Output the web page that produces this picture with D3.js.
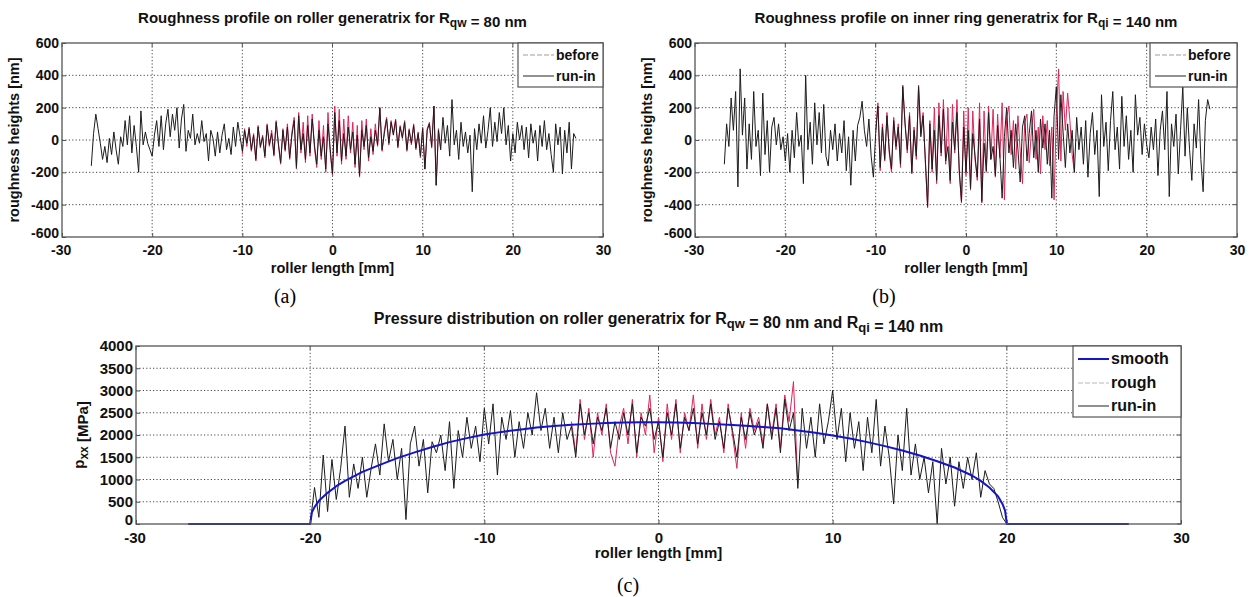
<!DOCTYPE html>
<html>
<head>
<meta charset="utf-8">
<script src="https://cdn.jsdelivr.net/npm/d3@7"></script>
<style>
  html, body { margin: 0; padding: 0; background: #fff; }
  svg { display: block; }
  text { font-family: "Liberation Sans", Arial, sans-serif; }
</style>
</head>
<body>
<script>
// ---------- data ----------
// Profiles are sampled on a regular grid: first x [mm] and step [mm]
const profileStart = -26.75;
const profileStep = 0.25;

// (a) roller roughness heights [nm], run-in profile
const rollerRunIn = [
  -160, 40, 160, 70, -20, -120, -40, -140,
  10, -90, 50, -60, -150, 20, -40, 120,
  -30, 150, -80, 90, -40, -200, 180, -30,
  50, -20, -60, -100, 30, 120, -40, 150,
  -60, 100, 190, 20, 160, 60, 200, -50,
  130, 220, -70, 60, 10, 160, -30, 40,
  -20, 120, -10, 40, -130, 60, 10, -100,
  50, -80, 30, 100, -60, 10, -90, 80,
  -40, 110, 20, -70, 60, -20, 70, -60,
  30, -120, 80, -40, 20, -100, 90, -30,
  40, -90, 110, -20, -140, 60, -60, 80,
  -110, 30, 120, -170, 150, -60, 40, -120,
  90, -80, 130, -30, -150, 60, -100, 20,
  -180, 100, -60, -210, 170, -80, 120, -130,
  40, -100, 80, -60, 50, -150, 30, -220,
  60, -40, 90, -110, 20, -70, 60, -30,
  200, -60, 40, 130, -20, 110, 30, 120,
  -40, 80, 10, 110, -60, 60, -20, 90,
  -50, 40, -100, 70, -180, 60, 100, -40,
  210, -280, 60, -60, 140, -20, 90, -100,
  250, -30, 60, -120, 110, -40, 50, -80,
  30, -320, 70, -60, 100, -20, 150, -50,
  60, 200, -40, 110, -10, 170, 40, 200,
  -30, 90, -130, 40, -80, 110, 0, 90,
  -60, 80, -110, 100, -20, 60, -130, 90,
  -40, 120, -60, 40, -90, -200, 100, -30,
  80, -210, 60, -80, 110, -180, 40, 10
];

// (a) roller roughness before run-in, central contact zone only
const beforeStart = -10.0;
const rollerBefore = [
  -90, 70, -40, 80, -70, 40, -130, 90,
  -50, 30, -110, 100, -40, 60, -100, 120,
  -30, -150, 70, -70, 100, -120, 50, 140,
  -180, 170, -80, 110, -140, 150, -100, 160,
  -50, -170, 120, -120, 90, -200, 170, -80,
  -220, 210, -100, 190, -150, 130, -120, 150,
  -80, 110, -170, 90, -230, 120, -60, 130,
  -130, 70, -90, 100, -40, 200, -70, 60,
  140, -30, 120, 40, 130, -50, 90, 20,
  120, -70, 70, -30, 100, -60, 50, -110,
  80, -180, 70, 110, -50, 210, -280, 70,
  -60
];

// (b) inner ring roughness heights [nm], run-in profile
const ringRunIn = [
  -150, 100, -40, 260, 60, 300, -290, 440,
  30, 260, -180, 100, -120, 300, -40, 60,
  -220, 290, -90, 120, -200, 80, 140, -30,
  100, -60, 20, -130, 40, -200, 60, -110,
  170, -40, 30, -270, 400, -60, 110, -150,
  230, -30, 170, -80, 220, -100, -160, 60,
  -60, 100, -130, 40, -80, 120, -190, 20,
  -280, 60, -130, 90, 140, 240, 60, -40,
  130, -100, -230, 40, 210, -170, 80, -120,
  150, -60, -180, 120, -40, 80, -150, 330,
  100, -60, 150, -200, 60, -100, 330, 20,
  150, -120, -410, 100, -180, 60, -250, 150,
  -80, 190, -130, -40, -250, 110, -60, 170,
  -180, -380, 80, -200, 60, -300, 40, -100,
  -230, 130, -380, -20, -190, 170, -120, -40,
  -220, 90, -100, -360, 20, 200, -80, 60,
  -170, 100, -60, -260, 80, 150, -130, 40,
  180, -110, 60, -200, 130, -50, 100, -150,
  60, -360, 150, 330, -120, 280, 50, -170,
  100, -80, 60, -200, 140, -60, 80, -150,
  120, -230, 40, 170, -90, 60, -350, 280,
  -40, 110, -190, 120, 300, -60, 80, -180,
  270, -40, 150, -120, 60, -200, 280, 30,
  140, -90, 100, -30, -110, 80, -60, 130,
  -220, 60, 180, -60, 300, -350, 100, -40,
  160, -210, 60, 330, -100, 200, -60, -250,
  100, -50, 250, -120, -320, 120, 250, 190
];

// (b) inner ring roughness before run-in, central contact zone only
const ringBefore = [
  60, 230, -190, 100, -130, 170, -80, -200,
  140, -60, 100, -170, 340, 110, -80, 170,
  -210, 80, -120, 340, 40, 170, -140, -420,
  120, -200, 200, -270, 230, -100, 250, -150,
  200, -270, 220, -80, 250, -200, -390, 180,
  -220, 200, -310, 180, -120, -250, 230, -390,
  180, -200, 210, -120, 190, -230, 160, -110,
  230, -370, 140, 210, -90, 120, -180, 150,
  -70, -270, 110, 160, -140, 60, 190, -120,
  80, -210, 150, -60, 120, -160, 80, -370,
  160, 440, -130, 300, 60, 290, 120, -90,
  -200
];

// (c) pressure [MPa]; sampled from -20 mm with a 0.25 mm step
const pressureStart = -20.0;
const pressureStep = 0.25;
const pressureRunIn = [
  0, 820, 150, 1550, 280, 1450, 550, 1250,
  2200, 600, 1350, 800, 1500, 600, 1250, 1800,
  1100, 2250, 1400, 1900, 1000, 1700, 100, 1800,
  2200, 1300, 1900, 700, 1850, 1600, 2000, 1200,
  2300, 800, 2100, 1500, 2400, 1700, 2200, 1400,
  2600, 1800, 2700, 1100, 2400, 1900, 2550, 1500,
  2300, 1700, 2500, 2000, 2950, 2100, 2600, 1700,
  2400, 1600, 2500, 1900, 2200, 1500, 2700, 2000,
  2500, 1800, 2400, 2100, 2600, 1700, 2300, 1900,
  2500, 2000, 2700, 1600, 2400, 2200, 2600, 1900,
  2300, 1500, 2500, 2000, 2700, 1700, 2400, 2100,
  2600, 1800, 2500, 2000, 2700, 1900, 2300, 1700,
  2600, 2100, 1500, 2400, 1900, 2500, 2000, 2300,
  1700, 2700, 1900, 2600, 1600, 2800, 2100, 2500,
  800, 2600, 1700, 2400, 1500, 2700, 1800, 2300,
  3000, 1900, 2600, 1400, 2500, 1700, 2300, 1200,
  2400, 1600, 2800, 1300, 2200, 1500, 450, 2000,
  1200, 2600, 1100, 1800, 1000, 1500, 700, 1400,
  0, 1700, 900, 1500, 400, 1400, 800, 1500,
  1000, 1600, 600, 1200, 900, 800, 500, 150,
  0
];

// (c) rough-surface pressure [MPa]; sampled from -5 mm with a 0.25 mm step
const roughStart = -5.0;
const pressureRough = [
  2300, 1600, 2800, 1900, 2600, 1500, 2500, 2000,
  2700, 1600, 1300, 2200, 2600, 1800, 2800, 1500,
  2500, 2000, 2900, 1600, 2400, 1400, 2700, 1900,
  2800, 1600, 2500, 2100, 2900, 1700, 2700, 1900,
  2800, 2000, 2400, 1600, 2700, 2000, 1250, 2500,
  1700, 2600, 2100, 2400, 1800, 2700, 2000, 2700,
  1700, 2900, 2300, 3200, 900
];

// (c) smooth-surface pressure [MPa]
const smoothX = [-27, -20.05, -20, -19.9, -19.75, -19.5, -19, -18.5, -18, -17, -16, -15, -14, -13,
  -12, -11, -10, -9, -8, -7, -6, -5, -4, -3, -2, -1, 0, 1, 2, 3, 4, 5, 6, 7, 8, 9, 10,
  11, 12, 13, 14, 15, 16, 17, 18, 18.5, 19, 19.5, 19.75, 19.9, 20, 20.05, 27];
const smoothP = [0, 0, 0, 260, 380, 520, 700, 850, 970, 1170, 1330, 1480, 1610, 1730,
  1840, 1930, 2010, 2070, 2120, 2170, 2200, 2230, 2250, 2270, 2280, 2285, 2285, 2280, 2270, 2250, 2230, 2210, 2180, 2150, 2100, 2050, 1990,
  1920, 1840, 1750, 1650, 1540, 1410, 1270, 1090, 970, 820, 620, 450, 300, 0, 0, 0];

// axis ticks
const xTicks = [-30, -20, -10, 0, 10, 20, 30];
const roughTicks = [-600, -400, -200, 0, 200, 400, 600];
const pressureTicks = [0, 500, 1000, 1500, 2000, 2500, 3000, 3500, 4000];

// ---------- drawing ----------
const W = 1253, H = 597;
const svg = d3.select("body").append("svg").attr("width", W).attr("height", H);

const C = {
  black: "#1c1c1c",
  red: "#e2245a",
  blue: "#1414c8",
  grid: "#333",
  box: "#555",
  faint: "#c9b9bd"
};

function evenSeries(values, start, step) {
  return values.map((v, i) => [start + i * step, v]);
}

function addParts(textSel, parts, subSize) {
  parts.forEach(part => {
    if (part.sub) {
      textSel.append("tspan").attr("dy", 4).style("font-size", subSize + "px").text(part.sub);
      textSel.append("tspan").attr("dy", -4).text("");
    } else {
      textSel.append("tspan").text(part.text);
    }
  });
}

function drawPanel(p) {
  const g = svg.append("g");
  const x = d3.scaleLinear().domain([-30, 30]).range([p.left, p.right]);
  const y = d3.scaleLinear().domain(p.yDomain).range([p.bottom, p.top]);

  // grid
  const gx = xTicks.filter(t => t > -30 && t < 30);
  const gy = p.yTicks.filter(t => t > p.yDomain[0] && t < p.yDomain[1]);
  g.append("g").selectAll("line").data(gx).join("line")
    .attr("x1", d => x(d)).attr("x2", d => x(d))
    .attr("y1", p.top).attr("y2", p.bottom)
    .attr("stroke", C.grid).attr("stroke-width", 0.9).attr("stroke-dasharray", "1.2,2.2");
  g.append("g").selectAll("line").data(gy).join("line")
    .attr("x1", p.left).attr("x2", p.right)
    .attr("y1", d => y(d)).attr("y2", d => y(d))
    .attr("stroke", C.grid).attr("stroke-width", 0.9).attr("stroke-dasharray", "1.2,2.2");

  // series
  const line = d3.line().x(d => x(d[0])).y(d => y(d[1]));
  p.series.forEach(s => {
    g.append("path").datum(s.data)
      .attr("d", line)
      .attr("fill", "none")
      .attr("stroke", s.color)
      .attr("stroke-width", s.width)
      .attr("stroke-linejoin", "round");
  });

  // axes
  const fmt = d => String(d);
  const ax = d3.axisBottom(x).tickValues(xTicks).tickFormat(fmt).tickSize(-4).tickPadding(8);
  const ay = d3.axisLeft(y).tickValues(p.yTicks).tickFormat(fmt).tickSize(-4).tickPadding(3);
  const axG = g.append("g").attr("transform", `translate(0,${p.bottom})`).call(ax);
  const ayG = g.append("g").attr("transform", `translate(${p.left},0)`).call(ay);
  [axG, ayG].forEach(a => {
    a.select(".domain").remove();
    a.selectAll(".tick line").attr("stroke", C.box);
    a.selectAll(".tick text")
      .attr("fill", "#111")
      .style("font-size", p.tickSize + "px")
      .style("font-weight", "bold")
      .style("font-family", "'Liberation Sans', Arial, sans-serif");
  });
  // lowest y label sits just above the first x label
  ayG.selectAll(".tick text").filter(d => d === p.yDomain[0]).attr("dy", "0.05em");
  axG.selectAll(".tick text").filter(d => d === -30).attr("dx", "-0.1em");

  // top/right tick marks
  g.append("g").selectAll("line").data(xTicks).join("line")
    .attr("x1", d => x(d)).attr("x2", d => x(d))
    .attr("y1", p.top).attr("y2", p.top + 4).attr("stroke", C.box);
  g.append("g").selectAll("line").data(p.yTicks).join("line")
    .attr("x1", p.right).attr("x2", p.right - 4)
    .attr("y1", d => y(d)).attr("y2", d => y(d)).attr("stroke", C.box);

  // frame
  g.append("rect")
    .attr("x", p.left).attr("y", p.top)
    .attr("width", p.right - p.left).attr("height", p.bottom - p.top)
    .attr("fill", "none").attr("stroke", C.box).attr("stroke-width", 1.3);

  // title
  const t = g.append("text")
    .attr("x", (p.left + p.right) / 2).attr("y", p.titleY)
    .attr("text-anchor", "middle")
    .style("font-size", p.titleSize + "px").style("font-weight", "bold").attr("fill", "#111");
  addParts(t, p.title, p.titleSize - 3);

  // x label
  g.append("text")
    .attr("x", (p.left + p.right) / 2).attr("y", p.xLabelY)
    .attr("text-anchor", "middle")
    .style("font-size", p.labelSize + "px").style("font-weight", "bold").attr("fill", "#111")
    .text("roller length [mm]");

  // y label
  const yl = g.append("text")
    .attr("transform", `translate(${p.yLabelX},${(p.top + p.bottom) / 2}) rotate(-90)`)
    .attr("text-anchor", "middle")
    .style("font-size", p.labelSize + "px").style("font-weight", "bold").attr("fill", "#111");
  addParts(yl, p.yLabel, p.labelSize - 3);

  // legend
  const L = p.legend;
  g.append("rect")
    .attr("x", L.x0).attr("y", p.top)
    .attr("width", p.right - L.x0).attr("height", L.y1 - p.top)
    .attr("fill", "#fff").attr("stroke", C.box).attr("stroke-width", 1.2);
  L.items.forEach((it, i) => {
    const yy = L.rows[i];
    g.append("line")
      .attr("x1", L.x0 + 5).attr("x2", L.x0 + 36)
      .attr("y1", yy).attr("y2", yy)
      .attr("stroke", it.color).attr("stroke-width", it.width)
      .attr("stroke-dasharray", it.dash || null);
    g.append("text")
      .attr("x", L.x0 + 38).attr("y", yy + 5)
      .style("font-size", L.size + "px").style("font-weight", "bold").attr("fill", "#111")
      .text(it.label);
  });

  // caption letter
  svg.append("text")
    .attr("x", p.capX).attr("y", p.capY)
    .attr("text-anchor", "middle")
    .style("font-family", "'Liberation Serif', 'Times New Roman', serif")
    .style("font-size", "20px").attr("fill", "#000")
    .text(p.caption);
}

const roughLegend = [
  { label: "before", color: C.faint, width: 1.3, dash: "5,2" },
  { label: "run-in", color: "#555", width: 1.3 }
];

drawPanel({
  left: 62, right: 603, top: 43, bottom: 237,
  yDomain: [-600, 600], yTicks: roughTicks, tickSize: 14, labelSize: 14.5, titleSize: 15,
  title: [{ text: "Roughness profile on roller generatrix for R" }, { sub: "qw" }, { text: " = 80 nm" }],
  titleY: 23, xLabelY: 273, yLabelX: 19,
  yLabel: [{ text: "roughness heights [nm]" }],
  series: [
    { data: evenSeries(rollerBefore, beforeStart, profileStep), color: C.red, width: 1 },
    { data: evenSeries(rollerRunIn, profileStart, profileStep), color: C.black, width: 1 }
  ],
  legend: { x0: 518, y1: 87, rows: [55, 76], size: 14, items: roughLegend },
  caption: "(a)", capX: 285, capY: 303
});

drawPanel({
  left: 695, right: 1237, top: 43, bottom: 237,
  yDomain: [-600, 600], yTicks: roughTicks, tickSize: 14, labelSize: 14.5, titleSize: 15,
  title: [{ text: "Roughness profile on inner ring generatrix for R" }, { sub: "qi" }, { text: " = 140 nm" }],
  titleY: 23, xLabelY: 273, yLabelX: 652,
  yLabel: [{ text: "roughness heights [nm]" }],
  series: [
    { data: evenSeries(ringBefore, beforeStart, profileStep), color: C.red, width: 1 },
    { data: evenSeries(ringRunIn, profileStart, profileStep), color: C.black, width: 1 }
  ],
  legend: { x0: 1150, y1: 87, rows: [55, 76], size: 14, items: roughLegend },
  caption: "(b)", capX: 884, capY: 303
});

drawPanel({
  left: 136, right: 1181, top: 346, bottom: 524,
  yDomain: [0, 4000], yTicks: pressureTicks, tickSize: 15, labelSize: 15, titleSize: 16,
  title: [{ text: "Pressure distribution on roller generatrix for R" }, { sub: "qw" },
          { text: " = 80 nm and R" }, { sub: "qi" }, { text: " = 140 nm" }],
  titleY: 324, xLabelY: 558, yLabelX: 84,
  yLabel: [{ text: "p" }, { sub: "xx" }, { text: " [MPa]" }],
  series: [
    { data: evenSeries(pressureRough, roughStart, pressureStep), color: C.red, width: 1 },
    { data: evenSeries(pressureRunIn, pressureStart, pressureStep), color: C.black, width: 1 },
    { data: smoothX.map((v, i) => [v, smoothP[i]]), color: C.blue, width: 2 }
  ],
  legend: {
    x0: 1073, y1: 417, rows: [359, 383, 406], size: 16,
    items: [
      { label: "smooth", color: C.blue, width: 2 },
      { label: "rough", color: "#cfcfcf", width: 1.5, dash: "5,2" },
      { label: "run-in", color: "#555", width: 1.3 }
    ]
  },
  caption: "(c)", capX: 628, capY: 592
});
</script>
</body>
</html>
